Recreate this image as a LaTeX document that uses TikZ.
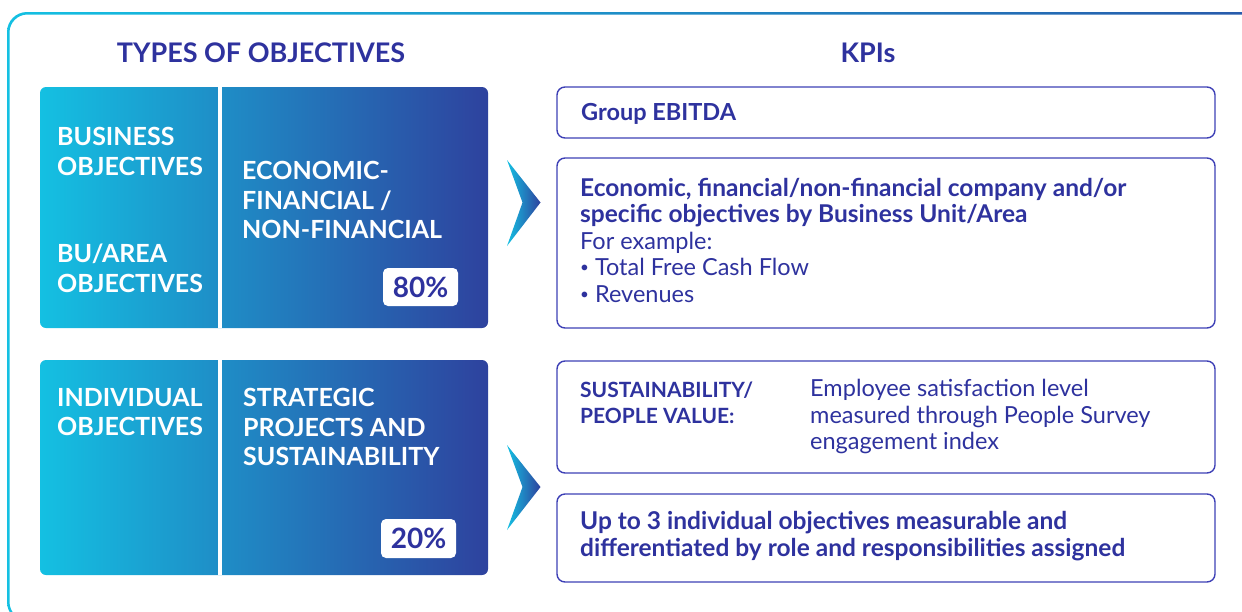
\documentclass[tikz,border=0pt]{standalone}
\usepackage{fontspec}
\setmainfont{Lato}
\usetikzlibrary{positioning}

\definecolor{kpiblue}{RGB}{46,50,158}
\definecolor{edgeblue}{RGB}{62,64,182}
\definecolor{lightcyan}{RGB}{20,192,226}
\definecolor{midblue}{RGB}{28,128,190}
\definecolor{deepblue}{RGB}{46,66,158}
\definecolor{frameblue}{RGB}{40,88,170}

\newcommand{\kpibold}{\fontsize{24.5}{26.5}\selectfont\bfseries}
\newcommand{\kpicaps}{\fontsize{21}{26.5}\selectfont\bfseries}
\newcommand{\kpibullet}{\raisebox{0.12em}{\scalebox{0.65}{•}}}

\tikzset{
  panel/.style={rounded corners=6pt, left color=lightcyan, middle color=midblue, right color=deepblue},
  divider/.style={white, line width=4pt},
  chevron/.style={left color=lightcyan, right color=deepblue},
  pctbox/.style={fill=white, rounded corners=5pt, text=kpiblue, font=\fontsize{28}{30}\selectfont\bfseries},
  kpibox/.style={draw=edgeblue, line width=1.4pt, rounded corners=8pt, minimum width=658pt},
  headtext/.style={text=kpiblue, font=\fontsize{27}{32}\selectfont\bfseries},
  paneltext/.style={white, align=left, anchor=west, inner sep=0pt, font=\fontsize{25}{29.5}\selectfont\bfseries},
  kpitext/.style={text=kpiblue, align=left, anchor=west, inner sep=0pt, font=\fontsize{23.5}{26.5}\selectfont}
}

\begin{document}
\begin{tikzpicture}[x=1pt,y=-1pt]
    \useasboundingbox (0,0) rectangle (1242,611);

    % frame, cut off at the picture edges
    \begin{scope}
        \clip (0,0) rectangle (1242,611);
        \path[even odd rule, left color=lightcyan, right color=frameblue]
            [rounded corners=20pt] (7,12) rectangle (1280,622)
            [rounded corners=18pt] (9.5,14.5) rectangle (1278,620);
    \end{scope}

    % headings
    \node[headtext] (typeshead) at (261,53) {TYPES OF OBJECTIVES};
    \node[headtext] (kpishead) at (868,53) {KPIs};

    % left panels
    \node[panel, minimum width=448pt, minimum height=241pt] (bizpanel) at (264,207.5) {};
    \node[panel, minimum width=448pt, minimum height=215pt] (indpanel) at (264,467.5) {};
    \draw[divider] ([xshift=180pt]bizpanel.north west) -- ([xshift=180pt]bizpanel.south west);
    \draw[divider] ([xshift=180pt]indpanel.north west) -- ([xshift=180pt]indpanel.south west);

    \node[paneltext] (bizobj) at (57,151.5) {BUSINESS\\OBJECTIVES};
    \node[paneltext] (buobj) at (57,268.5) {BU/AREA\\OBJECTIVES};
    \node[paneltext] (econobj) at (242,200) {ECONOMIC-\\FINANCIAL /\\NON-FINANCIAL};
    \node[paneltext] (indobj) at (57,412) {INDIVIDUAL\\OBJECTIVES};
    \node[paneltext] (stratobj) at (243,427) {STRATEGIC\\PROJECTS AND\\SUSTAINABILITY};

    \node[pctbox, minimum width=75pt, minimum height=38pt] (pcteighty) at (420.5,287) {80\%};
    \node[pctbox, minimum width=75pt, minimum height=39pt] (pcttwenty) at (418.5,538.5) {20\%};

    % chevrons
    \path[chevron] (507,160) -- (540.5,202.5) -- (507,246) -- (522.5,202.5) -- cycle;
    \path[chevron] (507,445) -- (540.5,487) -- (507,530) -- (522.5,487) -- cycle;

    % KPI boxes
    \node[kpibox, minimum height=51pt] (kpiebitda) at (886,112.5) {};
    \node[kpibox, minimum height=170pt] (kpiecon) at (886,243) {};
    \node[kpibox, minimum height=112pt] (kpipeople) at (886,417) {};
    \node[kpibox, minimum height=88pt] (kpiindiv) at (886,538) {};

    \node[kpitext] (ebitdatext) at (581,113.5) {\fontsize{23.5}{26.5}\selectfont\bfseries Group EBITDA};
    \node[kpitext] (econtext) at (580,240) {{\kpibold Economic, financial/non-financial company and/or}\\
        {\kpibold specific objectives by Business Unit/Area}\\
        For example:\\
        \kpibullet\ Total Free Cash Flow\\
        \kpibullet\ Revenues};
    \node[kpitext] (peoplehead) at (580,403) {\kpicaps SUSTAINABILITY/\\\kpicaps PEOPLE VALUE:};
    \node[kpitext] (peopletext) at (810,416.5) {Employee satisfaction level\\
        measured through People Survey\\
        engagement index};
    \node[kpitext] (indivtext) at (580,536) {\kpibold Up to 3 individual objectives measurable and\\
        \kpibold differentiated by role and responsibilities assigned};
\end{tikzpicture}
\end{document}
